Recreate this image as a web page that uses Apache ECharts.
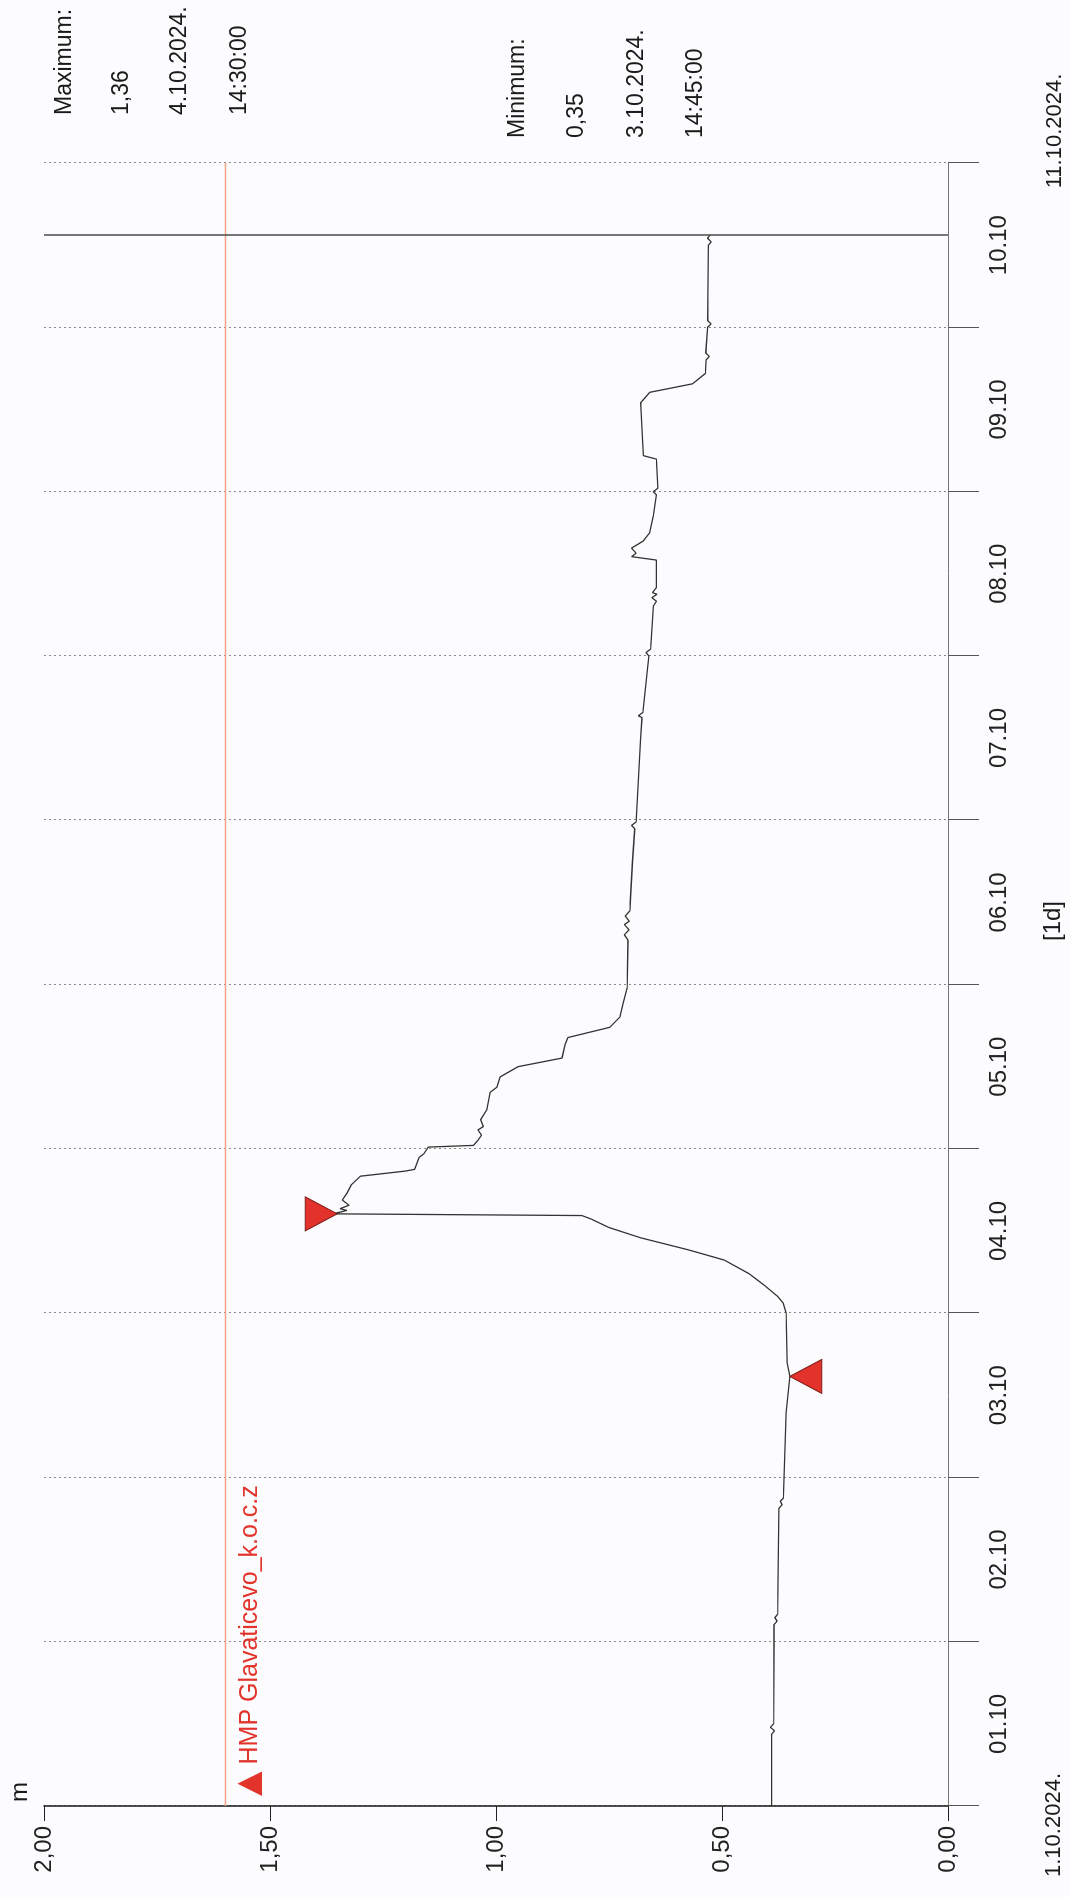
<!DOCTYPE html>
<html>
<head>
<meta charset="utf-8">
<script src="https://cdn.jsdelivr.net/npm/echarts@6/dist/echarts.min.js"></script>
<style>
html,body{margin:0;padding:0;width:1070px;height:1897px;overflow:hidden;background:#fcfcfe;}
#chart{position:absolute;left:0;top:0;width:1897px;height:1070px;transform-origin:0 0;transform:translateY(1897px) rotate(-90deg);}
</style>
</head>
<body>
<div id="chart"></div>
<script>
// ---- data ----
const dayLabels = ['01.10','02.10','03.10','04.10','05.10','06.10','07.10','08.10','09.10','10.10'];
const valueTicks = [0, 0.5, 1.0, 1.5, 2.0];
const times = [
 '2024-10-01 00:00','2024-10-01 10:30','2024-10-01 11:00','2024-10-01 11:30','2024-10-01 12:00',
 '2024-10-01 23:45','2024-10-02 02:30','2024-10-02 03:00','2024-10-02 03:30','2024-10-02 04:00',
 '2024-10-02 19:30','2024-10-02 20:00','2024-10-02 20:30','2024-10-02 21:00','2024-10-03 09:30',
 '2024-10-03 14:45','2024-10-03 16:45','2024-10-04 00:00','2024-10-04 01:30','2024-10-04 02:30',
 '2024-10-04 04:00','2024-10-04 05:45','2024-10-04 07:45','2024-10-04 09:15','2024-10-04 11:00',
 '2024-10-04 12:30','2024-10-04 13:45','2024-10-04 14:15','2024-10-04 14:30','2024-10-04 15:00',
 '2024-10-04 15:15','2024-10-04 15:45','2024-10-04 16:30','2024-10-04 17:30','2024-10-04 18:45',
 '2024-10-04 20:00','2024-10-04 20:45','2024-10-04 21:00','2024-10-04 22:45','2024-10-04 23:15',
 '2024-10-05 00:15','2024-10-05 00:30','2024-10-05 01:15','2024-10-05 02:00','2024-10-05 02:45',
 '2024-10-05 03:15','2024-10-05 04:15','2024-10-05 05:45','2024-10-05 08:15','2024-10-05 09:00',
 '2024-10-05 10:30','2024-10-05 12:00','2024-10-05 13:15','2024-10-05 15:15','2024-10-05 16:15',
 '2024-10-05 17:45','2024-10-05 19:15','2024-10-05 21:15','2024-10-05 23:30','2024-10-06 06:30',
 '2024-10-06 07:15','2024-10-06 08:00','2024-10-06 08:45','2024-10-06 09:15','2024-10-06 10:00',
 '2024-10-06 10:45','2024-10-06 12:00','2024-10-06 18:00','2024-10-06 22:45','2024-10-06 23:15',
 '2024-10-06 23:45','2024-10-07 12:00','2024-10-07 15:00','2024-10-07 15:15','2024-10-07 15:45',
 '2024-10-08 00:00','2024-10-08 00:30','2024-10-08 01:00','2024-10-08 07:15','2024-10-08 08:00',
 '2024-10-08 08:30','2024-10-08 09:00','2024-10-08 09:15','2024-10-08 10:00','2024-10-08 14:00',
 '2024-10-08 14:30','2024-10-08 15:00','2024-10-08 15:45','2024-10-08 16:45','2024-10-08 18:00',
 '2024-10-08 20:30','2024-10-08 23:30','2024-10-09 00:00','2024-10-09 00:30','2024-10-09 04:45',
 '2024-10-09 05:15','2024-10-09 13:00','2024-10-09 14:30','2024-10-09 15:45','2024-10-09 17:15',
 '2024-10-09 19:15','2024-10-09 19:45','2024-10-09 20:15','2024-10-10 00:00','2024-10-10 00:30',
 '2024-10-10 01:00','2024-10-10 12:00','2024-10-10 12:30','2024-10-10 13:00','2024-10-10 13:30'
];
const levels = [
 0.390,0.390,0.384,0.393,0.386,
 0.385,0.385,0.378,0.383,0.377,
 0.374,0.367,0.371,0.364,0.358,
 0.350,0.356,0.358,0.365,0.378,
 0.405,0.440,0.495,0.575,0.680,
 0.750,0.790,0.810,1.360,1.330,
 1.345,1.325,1.340,1.330,1.320,
 1.300,1.200,1.180,1.170,1.160,
 1.150,1.050,1.040,1.032,1.040,
 1.028,1.034,1.020,1.013,0.998,
 0.991,0.951,0.854,0.847,0.841,
 0.748,0.726,0.719,0.710,0.708,
 0.716,0.706,0.716,0.705,0.714,
 0.704,0.703,0.698,0.693,0.700,
 0.690,0.680,0.677,0.685,0.675,
 0.662,0.668,0.658,0.652,0.645,
 0.655,0.644,0.654,0.645,0.645,
 0.700,0.690,0.700,0.675,0.660,
 0.652,0.645,0.652,0.642,0.645,
 0.674,0.680,0.660,0.565,0.537,
 0.535,0.528,0.536,0.532,0.524,
 0.532,0.530,0.524,0.532,0.526
];
const maxPoint = {time:'2024-10-04 14:30', value:1.36, date:'4.10.2024.', clock:'14:30:00'};
const minPoint = {time:'2024-10-03 14:45', value:0.35, date:'3.10.2024.', clock:'14:45:00'};
const limitValue = 1.6;
const limitName = 'HMP Glavaticevo_k.o.c.z';
const nowTime = '2024-10-10 13:30';
const axisStart = '2024-10-01 00:00', axisEnd = '2024-10-11 00:00';

const fmt = v => v.toFixed(2).replace('.', ',');
const FONT = '"Liberation Sans", Arial, Helvetica, sans-serif';
const seriesData = times.map((t, i) => [t, levels[i]]);

const chart = echarts.init(document.getElementById('chart'), null, {renderer:'canvas'});
const txt = (x, y, text, align, size, color) => ({
  type:'text', x, y, silent:true,
  style:{text, fill:color||'#1a1a1a', font:size+'px '+FONT, align:align||'left', textAlign:align||'left', verticalAlign:'middle', textVerticalAlign:'middle'}
});
chart.setOption({
  backgroundColor:'#fcfcfe',
  animation:false,
  grid:{left:91, right:163, top:44, bottom:122},
  xAxis:[{
    type:'category', data:dayLabels, boundaryGap:true, position:'bottom',
    axisLine:{show:true, lineStyle:{color:'#777', width:1}},
    axisTick:{show:true, length:31, lineStyle:{color:'#555', width:1}},
    axisLabel:{fontSize:24, color:'#222', margin:39, fontFamily:FONT},
    splitLine:{show:true, lineStyle:{color:'#8a8a8a', width:1, type:[2,3]}}
  },{
    type:'time', min:axisStart, max:axisEnd, show:false
  }],
  yAxis:{
    type:'value', min:valueTicks[0], max:valueTicks[valueTicks.length-1], interval:0.5,
    axisLine:{show:true, lineStyle:{color:'#222', width:1.6}},
    axisTick:{show:true, length:15, lineStyle:{color:'#222', width:1}},
    axisLabel:{fontSize:24, color:'#222', margin:20, fontFamily:FONT, formatter:fmt},
    splitLine:{show:false}
  },
  series:[{
    type:'line', xAxisIndex:1, data:seriesData, showSymbol:false,
    lineStyle:{color:'#333', width:1.3},
    markLine:{
      silent:true, symbol:['none','none'],
      data:[
        {yAxis:limitValue, lineStyle:{color:'#f5a383', width:1.3, type:'solid'},
         label:{show:true, position:'insideStartBottom', distance:[10,9],
           formatter:'{t|\u25B2} ' + limitName, color:'#e2342a', fontSize:25, fontFamily:FONT,
           rich:{t:{fontSize:32, color:'#e2342a', fontFamily:'"DejaVu Sans", sans-serif'}}}},
        {xAxis:nowTime, lineStyle:{color:'#555', width:1.6, type:'solid'}, label:{show:false}}
      ]
    },
    markPoint:{
      silent:true,
      symbolSize:[34,32],
      itemStyle:{color:'#e2322b', borderColor:'#7d1e19', borderWidth:1},
      label:{show:false},
      data:[
        {coord:[maxPoint.time, maxPoint.value], symbol:'triangle', symbolRotate:180, symbolOffset:[0,-12]},
        {coord:[minPoint.time, minPoint.value], symbol:'triangle', symbolOffset:[0,16]}
      ]
    }
  }],
  graphic:[
    txt(95, 20, 'm', 'left', 24),
    txt(1782, 65, 'Maximum:', 'left', 23),
    txt(1782, 122, fmt(maxPoint.value), 'left', 23),
    txt(1782, 180, maxPoint.date, 'left', 23),
    txt(1782, 240, maxPoint.clock, 'left', 23),
    txt(1759, 518, 'Minimum:', 'left', 23),
    txt(1759, 577, fmt(minPoint.value), 'left', 23),
    txt(1759, 637, minPoint.date, 'left', 23),
    txt(1759, 696, minPoint.clock, 'left', 23),
    txt(976, 1053, '[1d]', 'center', 24),
    txt(72, 1054, '1.10.2024.', 'center', 22),
    txt(1766, 1055, '11.10.2024.', 'center', 22)
  ]
});
</script>
</body>
</html>
